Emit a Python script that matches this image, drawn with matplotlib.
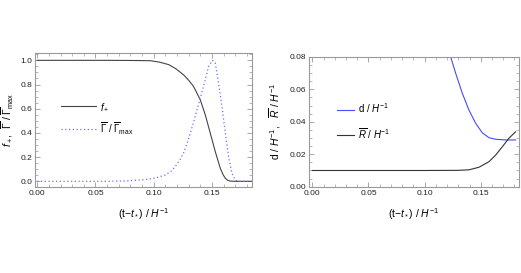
import matplotlib
matplotlib.use("Agg")
import matplotlib.pyplot as plt
from matplotlib.ticker import MultipleLocator

plt.rcParams["font.family"] = ["Liberation Sans", "DejaVu Sans"]
plt.rcParams["mathtext.fontset"] = "custom"
plt.rcParams["mathtext.rm"] = "Liberation Sans"
plt.rcParams["mathtext.it"] = "Liberation Sans:italic"

# left panel: f_+ and Gamma / Gamma_max vs (t - t*)
f_t = [0.0, 0.06, 0.08, 0.09, 0.097, 0.105, 0.113, 0.119, 0.1255, 0.130,
       0.1341, 0.137, 0.1399, 0.1442, 0.1485, 0.1528, 0.1571, 0.1595, 0.1614,
       0.1635, 0.1657, 0.170, 0.184]
f_plus = [1.0, 1.0, 0.999, 0.998, 0.997, 0.985, 0.964, 0.93, 0.881, 0.835,
          0.785, 0.73, 0.674, 0.55, 0.398, 0.245, 0.108, 0.055, 0.025,
          0.008, 0.002, 0.0, 0.0]

g_t = [0.0, 0.06, 0.075, 0.083, 0.09, 0.097, 0.1035, 0.1098, 0.1145, 0.1184,
       0.122, 0.1255, 0.1285, 0.1313, 0.1342, 0.1371, 0.140, 0.1427, 0.145,
       0.147, 0.1505, 0.1528, 0.1556, 0.1585, 0.1614, 0.1642, 0.1671, 0.170,
       0.173, 0.184]
gamma = [0.0, 0.0, 0.003, 0.008, 0.012, 0.02, 0.033, 0.052, 0.08, 0.121,
         0.17, 0.232, 0.31, 0.398, 0.49, 0.59, 0.69, 0.785, 0.87,
         0.95, 1.0, 0.978, 0.81, 0.62, 0.40, 0.204, 0.066, 0.01,
         0.0, 0.0]

# right panel: d / H^-1 and R / H^-1
d_t = [0.1232, 0.1277, 0.1336, 0.1395, 0.1455, 0.1514, 0.1573, 0.1633, 0.1722, 0.181]
d_val = [0.080, 0.0698, 0.0575, 0.0472, 0.039, 0.0332, 0.0302, 0.0292, 0.0288, 0.0288]

r_t = [0.0, 0.10, 0.13, 0.1395, 0.1484, 0.1573, 0.1633, 0.1692, 0.175, 0.181]
r_val = [0.010, 0.010, 0.0101, 0.0104, 0.012, 0.0154, 0.0195, 0.0246, 0.0298, 0.0338]

xlabel = r"(t$-t_*$) / $H^{-1}$"


def style_frame(ax):
    for s in ax.spines.values():
        s.set_color("#9a9a9a")
        s.set_linewidth(0.8)
    ax.tick_params(which="both", direction="in", top=True, right=True,
                   color="#9a9a9a", labelsize=6, labelcolor="#222222", pad=2)
    ax.tick_params(which="major", length=3.5, width=0.6)
    ax.tick_params(which="minor", length=2, width=0.5)
    ax.xaxis.set_major_locator(MultipleLocator(0.05))
    ax.xaxis.set_minor_locator(MultipleLocator(0.01))
    ax.xaxis.set_major_formatter(lambda v, p: f"{v:.2f}")
    ax.set_xlim(-0.002, 0.184)
    ax.set_xlabel(xlabel, fontsize=7.5, labelpad=7)


fig = plt.figure(figsize=(5.21, 2.73), dpi=100)

ax1 = fig.add_axes([0.067, 0.315, 0.416, 0.491])
ax1.plot(f_t, f_plus, color="#444444", lw=0.8, label=r"$f_+$")
ax1.plot(g_t, gamma, color="#6e6eff", lw=0.9, ls=(0, (1, 2)),
         label=r"$\overline{\Gamma}\ /\ \overline{\Gamma}_{\rm max}$")
style_frame(ax1)
ax1.set_ylim(-0.047, 1.061)
ax1.yaxis.set_major_locator(MultipleLocator(0.2))
ax1.yaxis.set_minor_locator(MultipleLocator(0.05))
ax1.yaxis.set_major_formatter(lambda v, p: f"{v:.1f}")
ax1.set_ylabel(r"$f_+$,  $\overline{\Gamma}\ /\ \overline{\Gamma}_{\rm max}$",
               fontsize=7.5, labelpad=3)
ax1.legend(loc="center left", bbox_to_anchor=(0.1, 0.51), frameon=False,
           fontsize=7, handlelength=3.6, handletextpad=0.4, labelspacing=0.8,
           borderpad=0)

ax2 = fig.add_axes([0.593, 0.316, 0.403, 0.476])
ax2.plot(d_t, d_val, color="#4a4aff", lw=0.8, label=r"d / $H^{-1}$")
ax2.plot(r_t, r_val, color="#333333", lw=0.8, label=r"$\overline{R}$ / $H^{-1}$")
style_frame(ax2)
ax2.set_xlim(-0.003, 0.184)
ax2.set_ylim(0.0, 0.08)
ax2.yaxis.set_major_locator(MultipleLocator(0.02))
ax2.yaxis.set_minor_locator(MultipleLocator(0.005))
ax2.yaxis.set_major_formatter(lambda v, p: f"{v:.2f}")
ax2.set_ylabel(r"d / $H^{-1}$,   $\overline{R}$ / $H^{-1}$", fontsize=7.5, labelpad=5)
ax2.legend(loc="center left", bbox_to_anchor=(0.11, 0.505), frameon=False,
           fontsize=7, handlelength=1.8, handletextpad=0.4, labelspacing=1.1,
           borderpad=0)

fig.savefig("out.png", dpi=100)
